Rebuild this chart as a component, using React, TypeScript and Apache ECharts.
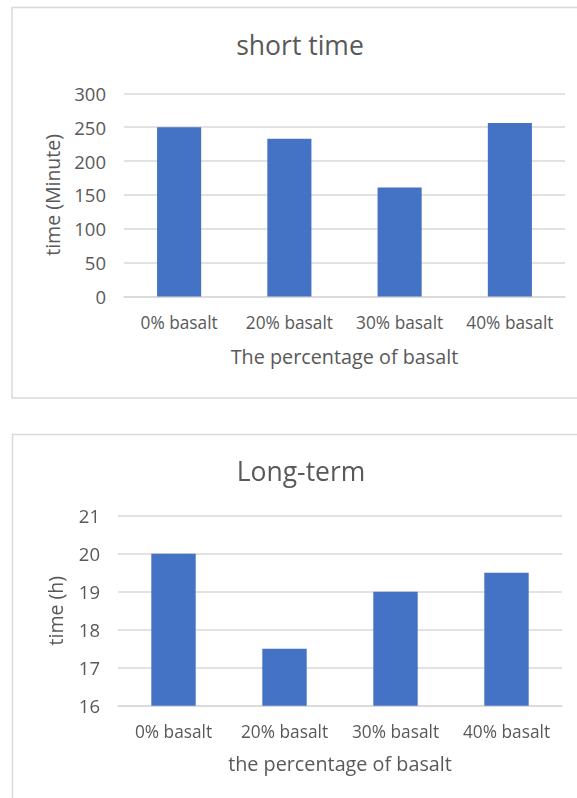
import React, { useEffect, useRef } from "react";
import * as echarts from "echarts";

// Short-time test (minutes)
const shortCategories = ["0% basalt", "20% basalt", "30% basalt", "40% basalt"];
const shortValues = [250, 233, 161, 256];
const shortTicks = { min: 0, max: 300, interval: 50 };

// Long-term test (hours)
const longCategories = ["0% basalt", "20% basalt", "30% basalt", "40% basalt"];
const longValues = [20, 17.5, 19, 19.5];
const longTicks = { min: 16, max: 21, interval: 1 };

const W = 577;
const TOP_H = 420;
const BOTTOM_H = 378;
const FONT = "'Open Sans', 'Noto Sans', sans-serif";
const TEXT = "#595959";
const GRID = "#d9d9d9";
const BAR = "#4472C4";

type Ticks = { min: number; max: number; interval: number };

interface PanelSpec {
  title: string;
  titleLeft: number;
  titleTop: number;
  frame: { x: number; y: number; width: number; height: number };
  grid: { left: number; top: number; width: number; height: number };
  categories: string[];
  values: number[];
  ticks: Ticks;
  xName: string;
  xNameGap: number;
  yName: string;
  yNameGap: number;
}

function buildOption(p: PanelSpec) {
  return {
    animation: false,
    backgroundColor: "#ffffff",
    title: {
      text: p.title,
      left: p.titleLeft,
      textAlign: "center",
      top: p.titleTop,
      padding: 0,
      textStyle: { color: TEXT, fontSize: 26.5, fontWeight: "normal", fontFamily: FONT },
    },
    graphic: [
      {
        type: "rect",
        silent: true,
        shape: p.frame,
        style: { fill: "none", stroke: GRID, lineWidth: 1.5 },
        z: -1,
      },
    ],
    grid: p.grid,
    xAxis: {
      type: "category",
      data: p.categories,
      name: p.xName,
      nameLocation: "middle",
      nameGap: p.xNameGap,
      nameTextStyle: { color: TEXT, fontSize: 19.8, fontFamily: FONT },
      axisLine: { show: true, lineStyle: { color: GRID, width: 1.5 } },
      axisTick: { show: false },
      axisLabel: { color: TEXT, fontSize: 17.3, fontFamily: FONT, margin: 17, interval: 0 },
    },
    yAxis: {
      type: "value",
      min: p.ticks.min,
      max: p.ticks.max,
      interval: p.ticks.interval,
      name: p.yName,
      nameLocation: "middle",
      nameRotate: 90,
      nameGap: p.yNameGap,
      nameTextStyle: { color: TEXT, fontSize: 19.5, fontFamily: FONT },
      axisLine: { show: false },
      axisTick: { show: false },
      axisLabel: { color: TEXT, fontSize: 18.5, fontFamily: FONT, margin: 18 },
      splitLine: { show: true, lineStyle: { color: GRID, width: 1.5 } },
    },
    series: [
      {
        type: "bar",
        data: p.values,
        barWidth: "40%",
        itemStyle: { color: BAR },
      },
    ],
  };
}

const shortPanel: PanelSpec = {
  title: "short time",
  titleLeft: 300,
  titleTop: 31,
  frame: { x: 12, y: 7.5, width: 620, height: 390.5 },
  grid: { left: 124, top: 93.3, width: 441, height: 203.2 },
  categories: shortCategories,
  values: shortValues,
  ticks: shortTicks,
  xName: "The percentage of basalt",
  xNameGap: 50,
  yName: "time (Minute)",
  yNameGap: 62,
};

const longPanel: PanelSpec = {
  title: "Long-term",
  titleLeft: 301,
  titleTop: 37,
  frame: { x: 12.5, y: 14.5, width: 620, height: 420 },
  grid: { left: 118, top: 95.7, width: 444, height: 190 },
  categories: longCategories,
  values: longValues,
  ticks: longTicks,
  xName: "the percentage of basalt",
  xNameGap: 48,
  yName: "time (h)",
  yNameGap: 53,
};

function Panel({ spec, top, height, soft }: { spec: PanelSpec; top: number; height: number; soft?: boolean }) {
  const ref = useRef<HTMLDivElement>(null);
  useEffect(() => {
    if (!ref.current) return;
    const chart = echarts.init(ref.current, undefined, { renderer: "svg" });
    chart.setOption(buildOption(spec));
    return () => chart.dispose();
  }, [spec]);
  return (
    <div
      ref={ref}
      style={{
        position: "absolute",
        left: 0,
        top,
        width: W,
        height,
        filter: soft ? "blur(0.35px)" : undefined,
      }}
    />
  );
}

export default function App() {
  return (
    <div style={{ position: "absolute", left: 0, top: 0, width: W, height: TOP_H + BOTTOM_H, background: "#fff", overflow: "hidden" }}>
      <Panel spec={shortPanel} top={0} height={TOP_H} />
      <Panel spec={longPanel} top={TOP_H} height={BOTTOM_H} soft />
    </div>
  );
}
